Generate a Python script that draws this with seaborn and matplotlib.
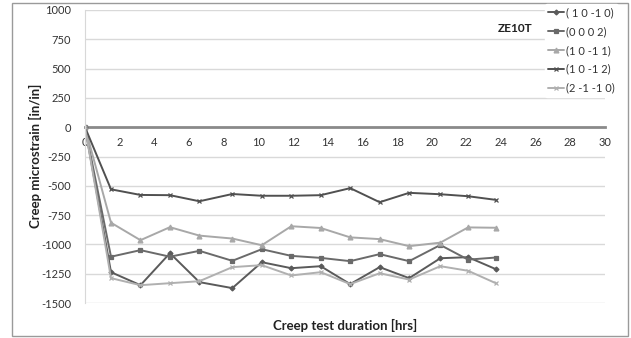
import matplotlib
matplotlib.use("Agg")
import matplotlib.pyplot as plt
import seaborn as sns
import pandas as pd
from matplotlib.patches import Rectangle

hours = [0, 1.5, 3.2, 4.9, 6.6, 8.5, 10.2, 11.9, 13.6, 15.3, 17.0, 18.7, 20.5, 22.1, 23.7]

s_10m10 = [0, -1237, -1348, -1075, -1322, -1373, -1152, -1203, -1186, -1339, -1194, -1288, -1118, -1109, -1211]
s_0002 = [0, -1105, -1049, -1105, -1055, -1140, -1041, -1098, -1115, -1143, -1083, -1143, -1005, -1130, -1112]
s_10m11 = [0, -815, -964, -853, -925, -950, -1007, -845, -860, -940, -955, -1015, -985, -855, -858]
s_10m12 = [0, -530, -578, -580, -632, -570, -585, -585, -580, -520, -640, -560, -572, -589, -620]
s_2m1m10 = [0, -1288, -1348, -1331, -1314, -1194, -1177, -1265, -1237, -1339, -1246, -1300, -1186, -1225, -1331]

labels = ["( 1 0 -1 0)", "(0 0 0 2)", "(1 0 -1 1)", "(1 0 -1 2)", "(2 -1 -1 0)"]
series = [s_10m10, s_0002, s_10m11, s_10m12, s_2m1m10]
colors = ["#5a5a5a", "#6a6a6a", "#a8a8a8", "#505050", "#b0b0b0"]
markers = ["D", "s", "^", "x", "x"]
msizes = [2.5, 3.5, 3.5, 3.5, 3]

x_ticks = list(range(0, 31, 2))
y_ticks = [1000, 750, 500, 250, 0, -250, -500, -750, -1000, -1250, -1500]

sns.set_style("white")
plt.rcParams["font.family"] = ["Lato", "DejaVu Sans"]

fig = plt.figure(figsize=(6.31, 3.38), dpi=100)
ax = fig.add_axes([85 / 631, 1 - 303 / 338, 520 / 631, 293 / 338])

for lab, vals, c, m, ms in zip(labels, series, colors, markers, msizes):
    df = pd.DataFrame({"hours": hours, "strain": vals})
    sns.lineplot(data=df, x="hours", y="strain", ax=ax, color=c, marker=m,
                 markersize=ms, linewidth=1.4, label=lab,
                 markeredgecolor=c, markeredgewidth=0.9)

ax.set_xlim(0, 30)
ax.set_ylim(-1500, 1000)
ax.set_yticks(y_ticks)
ax.set_yticklabels([str(v) for v in y_ticks])
ax.set_xticks(x_ticks)
ax.set_xticklabels([str(v) for v in x_ticks])
for yv in y_ticks:
    if yv != 0:
        ax.axhline(yv, color="#d9d9d9", linewidth=1.0, zorder=0)

ax.spines["bottom"].set_position(("data", 0))
ax.spines["bottom"].set_color("#8a8a8a")
ax.spines["bottom"].set_linewidth(2)
ax.spines["bottom"].set_zorder(1)
ax.spines["left"].set_color("#d8d8d8")
ax.spines["top"].set_visible(False)
ax.spines["right"].set_visible(False)
ax.tick_params(axis="x", direction="inout", length=4, width=1, color="#8a8a8a",
               labelsize=8, pad=5, labelcolor="#333333")
ax.tick_params(axis="y", length=0, labelsize=8, pad=10, labelcolor="#333333")
ax.set_xlabel("")
ax.set_ylabel("")

fig.text(345 / 631, 1 - 325 / 338, "Creep test duration [hrs]", ha="center", va="center",
         fontsize=9.5, fontweight="bold", color="#222222")
fig.text(35 / 631, 1 - 156 / 338, "Creep microstrain [in/in]", ha="center", va="center",
         rotation=90, fontsize=9.5, fontweight="bold", color="#222222")
ax.text(23.8, 845, "ZE10T", ha="left", va="center", fontsize=8.5, fontweight="bold",
        color="#222222")

handles, labs = ax.get_legend_handles_labels()
ax.get_legend().remove()
leg = fig.legend(handles, labs, loc="upper left", bbox_to_anchor=(545 / 631, 1 - 4 / 338),
                 frameon=True, facecolor="white", edgecolor="white", framealpha=1,
                 fontsize=8, handlelength=1.4, handletextpad=0.2, labelspacing=0.7,
                 borderpad=0.3, borderaxespad=0)
for t in leg.get_texts():
    t.set_color("#333333")

fig.patches.append(Rectangle((12 / 631, 2 / 338), 616 / 631, 333 / 338,
                             transform=fig.transFigure, fill=False,
                             edgecolor="#9a9a9a", linewidth=1.0))

fig.savefig("out.png", dpi=100)
